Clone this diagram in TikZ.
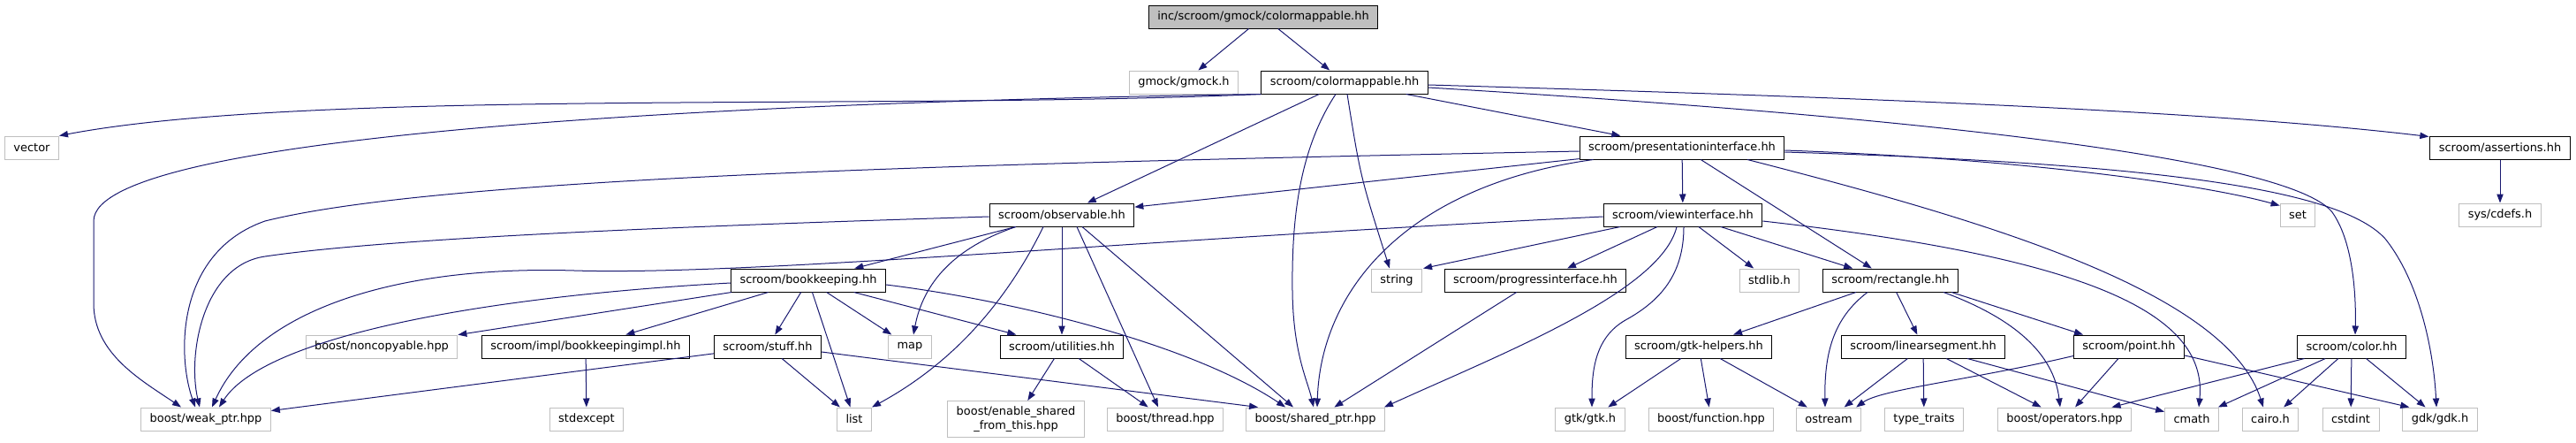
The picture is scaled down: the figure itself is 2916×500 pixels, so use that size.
\documentclass[tikz,border=0pt]{standalone}
\usepackage{fontspec}
\setsansfont{DejaVu Sans}
\usepackage{tikz}
\usetikzlibrary{arrows.meta, calc}
\definecolor{cEdge}     {HTML}{191970}
\definecolor{cExtBorder}{HTML}{BFBFBF}
\definecolor{cRootFill} {HTML}{BFBFBF}

\begin{document}
\begin{tikzpicture}[x=0.75pt, y=-0.75pt,
    file/.style={draw=black, line width=0.75pt, fill=white, inner xsep=7.5pt, inner ysep=0pt,
                 minimum height=19.5pt, font=\sffamily\fontsize{9.7}{11.6}\selectfont},
    sysfile/.style={file, draw=cExtBorder},
    rootfile/.style={file, fill=cRootFill},
    dep/.style={draw=cEdge, line width=0.75pt, -{Triangle[length=7.5pt, width=5.5pt]}},
  ]
  \useasboundingbox (0,0) rectangle (2916,500);

  % row 1 and 2
  \node[rootfile] (root)   at (1430,19) {inc/scroom/gmock/colormappable.hh};
  \node[sysfile]  (gmock)  at (1340,93) {gmock/gmock.h};
  \node[file]     (cmap)   at (1522,93) {scroom/colormappable.hh};
  % row 3
  \node[sysfile]  (vector) at (36,167)   {vector};
  \node[file]     (pres)   at (1904,167) {scroom/presentationinterface.hh};
  \node[file]     (assert) at (2830,167) {scroom/assertions.hh};
  % row 4
  \node[file]     (observ) at (1202,243) {scroom/observable.hh};
  \node[file]     (view)   at (1905,243) {scroom/viewinterface.hh};
  \node[sysfile]  (set)    at (2601,243) {set};
  \node[sysfile]  (cdefs)  at (2830,243) {sys/cdefs.h};
  % row 5
  \node[file]     (bookk)    at (915,317)  {scroom/bookkeeping.hh};
  \node[sysfile]  (string)   at (1581,317) {string};
  \node[file]     (progress) at (1738,317) {scroom/progressinterface.hh};
  \node[sysfile]  (stdlib)   at (2003,317) {stdlib.h};
  \node[file]     (rect)     at (2140,317) {scroom/rectangle.hh};
  % row 6
  \node[sysfile]  (noncopy) at (432,392)  {boost/noncopyable.hpp};
  \node[file]     (bkimpl)  at (663,392)  {scroom/impl/bookkeepingimpl.hh};
  \node[file]     (stuff)   at (869,392)  {scroom/stuff.hh};
  \node[sysfile]  (map)     at (1030,392) {map};
  \node[file]     (util)    at (1202,392) {scroom/utilities.hh};
  \node[file]     (gtkhelp) at (1923,392) {scroom/gtk-helpers.hh};
  \node[file]     (linseg)  at (2177,392) {scroom/linearsegment.hh};
  \node[file]     (point)   at (2410,392) {scroom/point.hh};
  \node[file]     (color)   at (2662,392) {scroom/color.hh};
  % row 7
  \node[sysfile] (weak)      at (233,474)  {boost/weak\_ptr.hpp};
  \node[sysfile] (stdexc)    at (664,474)  {stdexcept};
  \node[sysfile] (list)      at (967,474)  {list};
  \node[sysfile, align=center, minimum height=30.75pt]
                 (enable)    at (1150,474) {boost/enable\_shared\\\_from\_this.hpp};
  \node[sysfile] (thread)    at (1319,474) {boost/thread.hpp};
  \node[sysfile] (shared)    at (1489,474) {boost/shared\_ptr.hpp};
  \node[sysfile] (gtk)       at (1800,474) {gtk/gtk.h};
  \node[sysfile] (func)      at (1937,474) {boost/function.hpp};
  \node[sysfile] (ostream)   at (2070,474) {ostream};
  \node[sysfile] (typetr)    at (2178,474) {type\_traits};
  \node[sysfile] (operators) at (2337,474) {boost/operators.hpp};
  \node[sysfile] (cmath)     at (2481,474) {cmath};
  \node[sysfile] (cairo)     at (2570,474) {cairo.h};
  \node[sysfile] (cstdint)   at (2661,474) {cstdint};
  \node[sysfile] (gdk)       at (2762,474) {gdk/gdk.h};

  % straight includes
  \foreach \src/\dst in {root/gmock, root/cmap, cmap/observ, cmap/pres, pres/observ, pres/view,
      pres/rect, observ/bookk, observ/util, view/stdlib, view/rect, assert/cdefs,
      bookk/noncopy, bookk/bkimpl, bookk/stuff, bookk/list, bookk/map, bookk/util,
      bkimpl/stdexc, stuff/weak, stuff/list, util/enable, util/thread, progress/shared,
      rect/gtkhelp, rect/linseg, gtkhelp/gtk, gtkhelp/func, gtkhelp/ostream,
      linseg/ostream, linseg/typetr, linseg/operators, linseg/cmath, point/operators,
      color/operators, color/cmath, color/cairo, color/cstdint, color/gdk}{
    \draw[dep] (\src) -- (\dst);
  }

  % colormappable.hh
  \draw[dep] (cmap.south west) .. controls (1000,125) and (350,100) .. (vector.north east);
  \draw[dep] (cmap.south west) .. controls (850,115) and (106,150) .. (106,250) -- (106,343)
             .. controls (106,400) and (160,430) .. ($(weak.north)+(-28,0)$);
  \draw[dep] ($(cmap.south)+(-10,0)$) .. controls (1470,170) and (1462,250) .. (1463,330)
             .. controls (1464,400) and (1480,430) .. ($(shared.north)+(-2,0)$);
  \draw[dep] ($(cmap.south)+(3,0)$) .. controls (1540,200) .. ($(string.north)+(-8,0)$);
  \draw[dep] ($(cmap.east)+(0,3)$) .. controls (2100,110) and (2500,125) .. ($(assert.north west)+(-1,1)$);
  \draw[dep] ($(cmap.east)+(0,6)$) .. controls (2300,140) and (2600,190) .. (2640,240)
             .. controls (2665,275) and (2667,340) .. ($(color.north)+(4,0)$);

  % presentationinterface.hh
  \draw[dep] ($(pres.west)+(0,4)$) .. controls (1100,185) and (500,200) .. (300,250)
             .. controls (200,285) and (200,400) .. ($(weak.north)+(-12,0)$);
  \draw[dep] ($(pres.south west)+(16,0)$) .. controls (1590,210) and (1495,330) .. ($(shared.north)+(2,0)$);
  \draw[dep] ($(pres.east)+(0,3)$) .. controls (2300,180) and (2500,210) .. ($(set.north west)+(0,3)$);
  \draw[dep] ($(pres.east)+(0,5)$) .. controls (2450,185) and (2650,215) .. (2700,270)
             .. controls (2740,320) and (2755,400) .. ($(gdk.north)+(-4,0)$);
  \draw[dep] ($(pres.south)+(74,0)$) .. controls (2250,250) and (2520,330) .. ($(cairo.north)+(-8,0)$);

  % observable.hh
  \draw[dep] ($(observ.west)+(0,2)$) .. controls (800,255) and (450,268) .. (300,290)
             .. controls (230,300) and (212,400) .. ($(weak.north)+(-7,0)$);
  \draw[dep] ($(observ.south)+(-52,0)$) .. controls (1080,280) and (1045,320) .. ($(map.north)+(4,0)$);
  \draw[dep] ($(observ.south)+(-21,0)$) .. controls (1140,340) and (1080,410) .. (list.north east);
  \draw[dep] ($(observ.south)+(17,0)$) -- ($(thread.north)+(-8,0)$);
  \draw[dep] ($(observ.south)+(23,0)$) -- ($(shared.north)+(-25,0)$);

  % viewinterface.hh
  \draw[dep] ($(view.west)+(0,2)$) .. controls (1300,270) and (850,312) .. (650,306)
             .. controls (450,300) and (290,350) .. ($(weak.north)+(7,0)$);
  \draw[dep] ($(view.south)+(-71,0)$) -- ($(string.north east)+(1,0)$);
  \draw[dep] ($(view.south)+(-29,0)$) -- ($(progress.north)+(36,0)$);
  \draw[dep] ($(view.south)+(-7,0)$) .. controls (1880,330) and (1700,400) .. ($(shared.north east)+(-1,0)$);
  \draw[dep] ($(view.south)+(1,0)$) .. controls (1906,310) and (1880,340) .. (1840,362)
             .. controls (1805,382) and (1802,420) .. ($(gtk.north)+(2,0)$);
  \draw[dep] ($(view.east)+(0,7)$) .. controls (2350,290) and (2500,350) .. ($(cmath.north)+(8,0)$);

  % bookkeeping.hh, stuff.hh
  \draw[dep] ($(bookk.west)+(0,3)$) .. controls (550,335) and (300,380) .. ($(weak.north)+(15,0)$);
  \draw[dep] ($(bookk.east)+(0,5)$) .. controls (1150,340) and (1350,390) .. ($(shared.north west)+(45,0)$);
  \draw[dep] ($(stuff.east)+(0,6)$) -- ($(shared.north west)+(14,0)$);

  % rectangle.hh, point.hh
  \draw[dep] ($(rect.south)+(-26,0)$) .. controls (2075,360) and (2065,400) .. ($(ostream.north)+(-4,0)$);
  \draw[dep] ($(rect.south)+(60,0)$) .. controls (2280,360) and (2325,400) .. ($(operators.north)+(-5,0)$);
  \draw[dep] ($(rect.south east)+(-8,0)$) -- ($(point.north)+(-52,0)$);
  \draw[dep] ($(point.south west)+(0,-3)$) .. controls (2230,430) and (2130,440) .. ($(ostream.north east)+(-6,0)$);
  \draw[dep] ($(point.east)+(0,10)$) -- ($(gdk.north west)+(8,0)$);
\end{tikzpicture}
\end{document}
